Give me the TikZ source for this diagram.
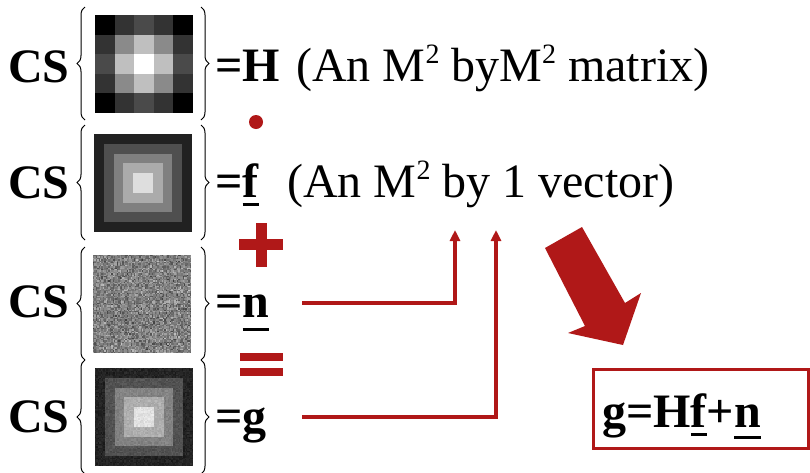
\documentclass[tikz,border=0pt]{standalone}
\usepackage{fontspec}
\setmainfont{Liberation Serif}
\usetikzlibrary{arrows.meta,decorations.pathreplacing}
\definecolor{myred}{RGB}{176,24,24}
\newcommand{\ulbar}[2][-10pt]{\setbox0\hbox{#2}\rlap{\rule[#1]{\wd0}{3pt}}\box0}
\newcommand{\sqr}{\raisebox{0.36em}{\fontsize{28}{28}\selectfont 2}}
\tikzset{
  bigtxt/.style={font=\fontsize{48}{50}\selectfont\bfseries, inner sep=0pt, anchor=base west},
  regtxt/.style={font=\fontsize{48}{50}\selectfont, inner sep=0pt, anchor=base west},
  imgbox/.style={minimum size=98pt, inner sep=0pt, anchor=north west},
  brc/.style={decorate, decoration={brace, amplitude=8pt}, line width=1pt},
  redline/.style={draw=myred, line width=3.2pt, -{Triangle[width=10pt,length=11pt]}},
}
\begin{document}
\begin{tikzpicture}[x=1pt,y=-1pt]
\useasboundingbox (0,0) rectangle (810,472);
\fill[white] (0,0) rectangle (810,472);

% ---------- images ----------
\node[imgbox] (img1) at (95,15) {};
\node[imgbox] (img2) at (94,134) {};
\node[imgbox] (img3) at (93,255) {};
\node[imgbox] (img4) at (95,368) {};

% image 1: blurred point (5x5 grid)
\foreach \row [count=\ri from 0] in {{0,20,29,20,0},{20,54,75,54,20},{29,75,100,75,29},{20,54,75,54,20},{0,20,29,20,0}} {
  \foreach \v [count=\ci from 0] in \row {
    \fill[white!\v!black] (95+\ci*19.6, 15+\ri*19.6) rectangle ++(19.8,19.8);
  }
}

% image 2: concentric squares
\fill[white!13!black] (94,134) rectangle ++(98,98);
\fill[white!31!black] (104,144) rectangle ++(78,78);
\fill[white!50!black] (114,154) rectangle ++(58,58);
\fill[white!67!black] (123,163) rectangle ++(40,40);
\fill[white!87!black] (133,173) rectangle ++(20,20);

% image 3: noise
\pgfmathsetseed{7}
\foreach \i in {0,...,69} {
  \foreach \j in {0,...,69} {
    \pgfmathsetmacro\w{50+20*(rnd+rnd+rnd-1.5)}
    \fill[white!\w!black] (93+1.4*\i, 255+1.4*\j) rectangle ++(1.5,1.5);
  }
}

% image 4: noisy concentric squares
\foreach \i in {0,...,69} {
  \foreach \j in {0,...,69} {
    \pgfmathsetmacro\d{max(abs(1.4*\i+0.7-49),abs(1.4*\j+0.7-49))}
    \pgfmathsetmacro\b{\d>39 ? 14 : (\d>29 ? 32 : (\d>20 ? 51 : (\d>10 ? 68 : 88)))}
    \pgfmathsetmacro\w{\b+6*(rnd+rnd-1)}
    \fill[white!\w!black] (95+1.4*\i, 368+1.4*\j) rectangle ++(1.5,1.5);
  }
}

% ---------- braces ----------
\draw[brc] (85,120) -- (85,7);
\draw[brc] (201,7) -- (201,120);
\draw[brc] (85,240) -- (85,125);
\draw[brc] (201,125) -- (201,240);
\draw[brc] (85,360) -- (85,247);
\draw[brc] (201,247) -- (201,360);
\draw[brc] (85,474) -- (85,360);
\draw[brc] (201,360) -- (201,474);

% ---------- CS labels ----------
\node[bigtxt] (cs1) at (8,82) {CS};
\node[bigtxt] (cs2) at (8,198) {CS};
\node[bigtxt] (cs3) at (8,317) {CS};
\node[bigtxt] (cs4) at (8,432) {CS};

% ---------- right-hand labels ----------
\node[bigtxt] (eqH) at (215,81) {=H};
\node[regtxt] (d1) at (296,81) {(An M\sqr{} byM\sqr{} matrix)};
\node[bigtxt] (eqf) at (215,197) {=\ulbar[-9pt]{f}};
\node[regtxt] (d2) at (287,197) {(An M\sqr{} by 1 vector)};
\node[bigtxt] (eqn) at (215,317) {=\ulbar[-14pt]{n}};
\node[bigtxt] (eqg) at (215,432) {=g};

% ---------- red operators ----------
\fill[myred] (256,122) circle (7);
\fill[myred] (239,239) rectangle (283,250);
\fill[myred] (256,223) rectangle (267,267);
\fill[myred] (240,353) rectangle (283,361);
\fill[myred] (240,368) rectangle (283,376);

% ---------- connectors ----------
\coordinate (s1) at (302,303);
\coordinate (t1) at (455,230);
\coordinate (s2) at (302,417);
\coordinate (t2) at (496,230);
\draw[redline] (s1) -| (t1);
\draw[redline] (s2) -| (t2);

% ---------- big arrow ----------
\fill[myred] (545,248) -- (582,227) -- (625,303) -- (641,293) -- (623,345) -- (568,333) -- (585,326) -- cycle;

% ---------- result box ----------
\draw[myred, line width=3pt] (593.5,369.5) rectangle (808.5,448.5);
\node[bigtxt] (res) at (602,427) {g=H\ulbar[-9pt]{f}+\ulbar[-12pt]{n}};
\end{tikzpicture}
\end{document}
